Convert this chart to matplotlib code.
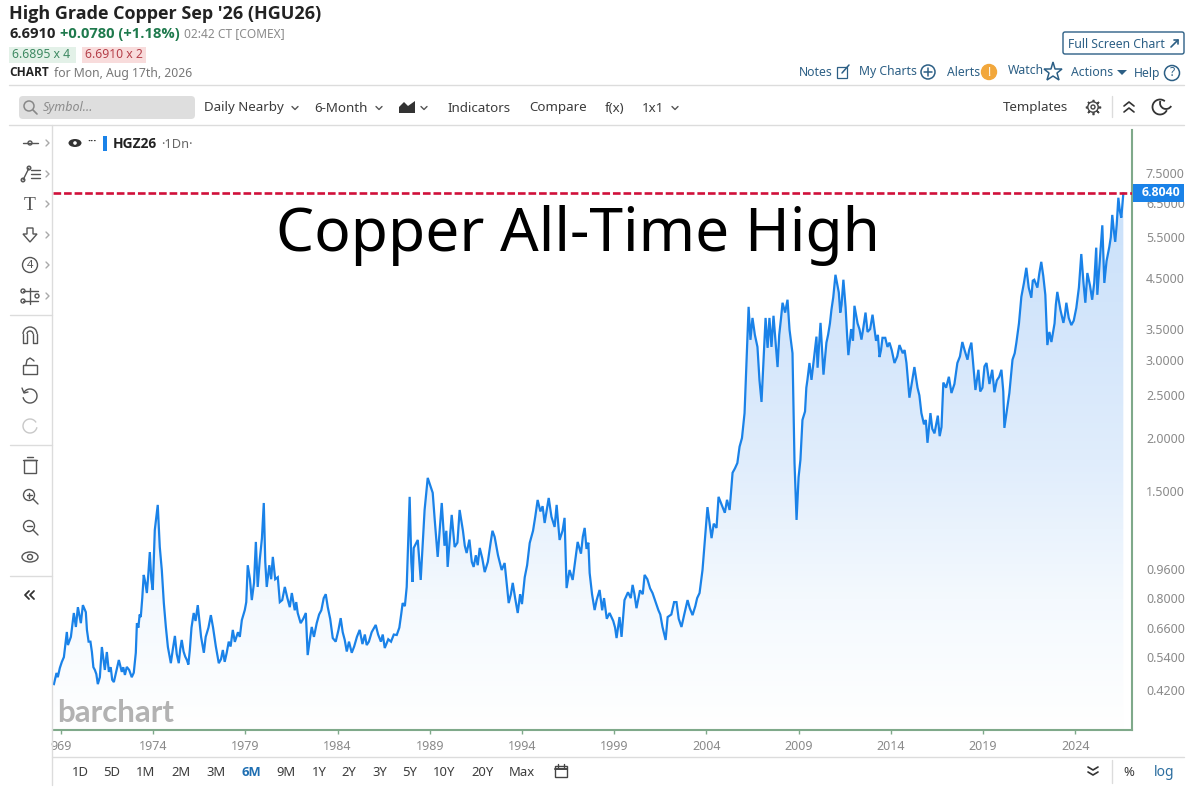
import matplotlib
matplotlib.use("Agg")
import matplotlib.pyplot as plt
import numpy as np
from matplotlib.patches import Arc, Circle, Ellipse, FancyBboxPatch, Polygon, Rectangle
from matplotlib.ticker import NullLocator

plt.rcParams['font.family'] = ['Noto Sans', 'DejaVu Sans']

# turning points
peak_years = [
    1968.62, 1968.76, 1968.83, 1968.94, 1969.05, 1969.16, 1969.32, 1969.38, 1969.54, 1969.70, 1969.81, 1969.92,
    1970.08, 1970.19, 1970.35, 1970.41, 1970.68, 1970.84, 1971.00, 1971.11, 1971.22, 1971.38, 1971.49, 1971.60,
    1971.87, 1972.14, 1972.30, 1972.47, 1972.57, 1972.84, 1973.06, 1973.12, 1973.33, 1973.49, 1973.66, 1973.82,
    1973.98, 1974.09, 1974.25, 1974.36, 1974.47, 1974.58, 1974.69, 1974.80, 1974.96, 1975.18, 1975.39, 1975.55,
    1975.83, 1975.99, 1976.20, 1976.42, 1976.75, 1977.13, 1977.56, 1977.78, 1977.99, 1978.32, 1978.43, 1978.81,
    1978.97, 1979.13, 1979.35, 1979.57, 1979.67, 1979.78, 1980.00, 1980.16, 1980.49, 1980.76, 1980.87, 1981.14,
    1981.41, 1981.52, 1981.84, 1982.28, 1982.38, 1982.60, 1982.87, 1983.25, 1983.47, 1983.74, 1984.17, 1984.39,
    1984.77, 1985.20, 1985.58, 1986.07, 1986.56, 1987.21, 1987.53, 1987.75, 1987.91, 1988.07, 1988.13, 1988.35,
    1988.51, 1988.72, 1988.89, 1989.16, 1989.27, 1989.43, 1989.65, 1989.97, 1990.19, 1990.35, 1990.62, 1991.00,
    1991.38, 1991.71, 1991.98, 1992.52, 1992.90, 1993.06, 1993.28, 1993.50, 1993.77, 1994.15, 1994.42, 1994.85,
    1995.23, 1995.45, 1995.77, 1995.88, 1996.04, 1996.31, 1996.42, 1996.58, 1996.75, 1997.02, 1997.40, 1997.67,
    1997.94, 1998.21, 1998.75, 1999.13, 1999.29, 1999.40, 1999.56, 2000.00, 2000.21, 2000.65, 2001.08, 2001.62,
    2001.79, 2001.90, 2002.38, 2002.65, 2002.98, 2003.25, 2003.63, 2003.79, 2004.06, 2004.28, 2004.66, 2004.88,
    2005.26, 2005.42, 2005.80, 2006.07, 2006.18, 2006.29, 2006.39, 2006.50, 2006.77, 2006.99, 2007.21, 2007.32,
    2007.42, 2007.53, 2007.64, 2007.86, 2008.13, 2008.40, 2008.51, 2008.67, 2008.78, 2008.89, 2009.00, 2009.10,
    2009.21, 2009.48, 2009.59, 2009.70, 2009.97, 2010.03, 2010.19, 2010.35, 2010.51, 2010.78, 2011.00, 2011.33,
    2011.43, 2011.70, 2012.03, 2012.41, 2012.63, 2012.74, 2013.01, 2013.39, 2013.55, 2013.93, 2014.20, 2014.47,
    2014.85, 2015.01, 2015.28, 2015.66, 2015.99, 2016.15, 2016.37, 2016.75, 2016.85, 2017.29, 2017.61, 2017.88,
    2018.16, 2018.37, 2018.59, 2018.97, 2019.19, 2019.62, 2020.00, 2020.16, 2020.43, 2020.60, 2020.81, 2021.08,
    2021.35, 2021.62, 2021.78, 2022.16, 2022.38, 2022.49, 2022.71, 2023.03, 2023.36, 2023.52, 2023.79, 2024.06,
    2024.33, 2024.55, 2024.66, 2024.92, 2025.14, 2025.20, 2025.47, 2025.58, 2025.85, 2026.01, 2026.17, 2026.34,
    2026.50, 2026.61,
]
peak_prices = [
    .44, .479, .464, .497, .52, .538, .641, .586, .62, .727, .663, .755,
    .68, .765, .731, .65, .558, .49, .44, .464, .578, .49, .558, .483,
    .447, .527, .483, .472, .501, .464, .555, .68, .708, .924, .826, 1.06,
    .842, 1.206, 1.39, 1.092, .952, .775, .663, .578, .515, .624, .515, .607,
    .527, .566, .727, .765, .555, .717, .515, .566, .555, .65, .599, .694,
    .741, .98, .79, 1.125, .858, 1.011, 1.405, .858, 1.03, .911, .78, .858,
    .755, .826, .727, .727, .546, .663, .68, .80, .755, .615, .703, .607,
    .555, .65, .586, .672, .574, .628, .775, .858, 1.454, .885, 1.086, 1.138,
    .896, 1.351, 1.614, 1.487, 1.277, 1.03, 1.405, .97, 1.314, 1.092, 1.351, 1.054,
    .97, 1.086, .94, 1.158, .952, .993, .775, .88, .727, .911, 1.118, 1.429,
    1.255, 1.445, 1.227, 1.39, 1.138, 1.292, .852, .952, .896, 1.125, 1.22, .935,
    .741, .842, .727, .615, .708, .62, .79, .869, .75, .924, .826, .663,
    .607, .708, .78, .663, .79, .717, .826, .952, 1.373, 1.15, 1.454, 1.373,
    1.351, 1.66, 1.91, 2.28, 3.0, 3.91, 3.316, 3.70, 3.2, 2.416, 3.7, 3.185,
    3.7, 3.2, 3.74, 2.89, 3.99, 4.05, 3.486, 3.1, 1.75, 1.277, 1.62, 1.78,
    2.2, 2.707, 2.95, 2.707, 3.37, 2.88, 3.61, 2.78, 3.27, 3.85, 4.58, 3.95,
    4.47, 3.07, 3.93, 3.32, 3.8, 3.45, 3.76, 3.04, 3.35, 3.27, 2.95, 3.23,
    2.95, 2.47, 2.89, 2.28, 1.95, 2.28, 2.05, 2.12, 2.67, 2.53, 2.95, 3.28,
    3.0, 3.27, 2.57, 2.6, 2.95, 2.54, 2.85, 2.11, 2.53, 3.0, 3.27, 4.11,
    4.74, 4.09, 4.47, 4.88, 4.15, 3.23, 3.28, 4.21, 3.61, 3.99, 3.57, 3.89,
    5.07, 3.99, 4.62, 4.05, 5.23, 4.15, 5.83, 4.4, 5.25, 6.13, 5.38, 6.66,
    6.05, 6.8,
]
# smaller swings between the turning points
swing_years = [
    1970.50, 1970.60, 1970.76, 1970.92, 1971.70, 1971.78, 1971.95, 1972.05, 1972.22, 1972.38, 1972.70, 1972.78,
    1972.95, 1973.20, 1973.27, 1973.41, 1973.58, 1973.74, 1973.90, 1975.07, 1975.28, 1975.47, 1975.65, 1975.74,
    1975.91, 1976.08, 1976.30, 1976.50, 1976.60, 1976.85, 1977.00, 1977.25, 1977.40, 1977.68, 1977.88, 1978.10,
    1978.20, 1978.60, 1978.70, 1979.05, 1979.25, 1979.47, 1979.90, 1980.08, 1980.30, 1980.40, 1980.62, 1981.00,
    1981.28, 1981.68, 1981.76, 1982.00, 1982.14, 1982.48, 1982.72, 1983.00, 1983.12, 1983.36, 1983.60, 1983.90,
    1984.05, 1984.28, 1984.50, 1984.62, 1984.90, 1985.05, 1985.35, 1985.48, 1985.70, 1985.85, 1986.20, 1986.35,
    1986.45, 1986.75, 1986.90, 1987.05, 1987.35, 1987.45, 1987.65, 1988.00, 1989.80, 1989.90, 1990.50, 1990.80,
    1990.90, 1991.15, 1991.28, 1991.50, 1991.60, 1991.85, 1992.15, 1992.30, 1992.40, 1992.70, 1993.15, 1993.40,
    1993.63, 1993.90, 1994.00, 1994.28, 1994.60, 1994.72, 1995.00, 1995.12, 1995.60, 1996.20, 1997.20, 1997.30,
    1997.50, 1997.60, 1997.80, 1998.05, 1998.35, 1998.45, 1998.60, 1998.95, 1999.05, 1999.75, 1999.90, 2000.10,
    2000.40, 2000.55, 2000.80, 2000.95, 2001.25, 2001.40, 2001.50, 2002.10, 2002.25, 2002.50, 2002.80, 2003.10,
    2003.40, 2003.50, 2004.40, 2004.55, 2005.00, 2005.12, 2005.34, 2005.55, 2005.68, 2005.93, 2006.63, 2006.88,
    2007.10, 2007.75, 2007.95, 2008.05, 2008.27, 2009.35, 2009.42, 2010.60, 2010.70, 2010.88, 2011.18, 2011.26,
    2011.55, 2011.63, 2011.85, 2011.95, 2012.20, 2012.30, 2012.50, 2012.88, 2013.20, 2013.30, 2013.47, 2013.70,
    2013.82, 2014.05, 2014.35, 2014.65, 2014.75, 2015.45, 2015.55, 2015.80, 2015.90, 2016.25, 2016.55, 2016.65,
    2017.00, 2017.15, 2017.45, 2017.75, 2018.00, 2018.25, 2018.75, 2018.85, 2019.08, 2019.35, 2019.50, 2019.75,
    2019.88, 2020.10, 2020.72, 2020.95, 2021.22, 2021.48, 2021.70, 2021.95, 2022.05, 2022.27, 2022.60, 2022.88,
    2022.95, 2023.20, 2023.44, 2023.65, 2023.92, 2024.20, 2024.45, 2024.80, 2025.03, 2025.33, 2025.70, 2025.93,
    2026.09, 2026.25, 2026.42,
]
swing_prices = [
    .60, .60, .50, .475, .50, .455, .47, .50, .505, .50, .49, .475,
    .48, .66, .72, .80, .88, .93, .90, .57, .55, .57, .56, .54,
    .51, .66, .69, .70, .62, .62, .66, .66, .58, .53, .52, .60,
    .58, .64, .62, .78, .90, .88, 1.15, 1.0, .98, .90, .90, .79,
    .80, .74, .78, .68, .70, .60, .62, .72, .74, .82, .70, .60,
    .65, .64, .56, .60, .58, .62, .59, .63, .60, .64, .63, .60,
    .63, .61, .60, .63, .66, .72, .76, 1.0, 1.1, 1.2, 1.12, 1.2,
    1.1, 1.14, 1.0, 1.04, .98, 1.02, 1.0, 1.12, 1.2, 1.04, .90, .82,
    .80, .82, .77, .98, 1.2, 1.3, 1.34, 1.38, 1.3, 1.2, 1.05, 1.16,
    1.08, 1.12, .82, .79, .74, .80, .70, .69, .66, .83, .80, .82,
    .84, .82, .90, .85, .78, .74, .72, .72, .78, .70, .72, .75,
    .76, .80, 1.25, 1.22, 1.33, 1.43, 1.5, 1.7, 1.75, 2.0, 3.4, 2.7,
    3.0, 3.3, 3.4, 3.7, 3.8, 2.3, 2.6, 3.4, 3.6, 4.1, 4.2, 3.8,
    3.9, 3.4, 3.5, 3.3, 3.6, 3.5, 3.5, 3.5, 3.3, 3.4, 3.15, 3.35,
    3.2, 3.15, 3.05, 3.1, 3.15, 2.6, 2.5, 2.15, 2.2, 2.1, 2.25, 2.02,
    2.6, 2.75, 2.65, 3.05, 3.15, 3.15, 2.85, 2.55, 2.9, 2.65, 2.85, 2.7,
    2.75, 2.55, 3.1, 3.6, 4.4, 4.3, 4.45, 4.3, 4.6, 4.55, 3.45, 3.6,
    3.95, 3.85, 3.75, 3.7, 3.65, 4.3, 4.4, 4.35, 4.4, 4.9, 4.9, 5.5,
    5.7, 5.85, 6.25,
]
x_ticks = [1969, 1974, 1979, 1984, 1989, 1994, 1999, 2004, 2009, 2014, 2019, 2024]
x_labels = ['969', '1974', '1979', '1984', '1989', '1994', '1999', '2004', '2009', '2014', '2019', '2024']
y_ticks = [0.42, 0.54, 0.66, 0.80, 0.96, 1.5, 2.0, 2.5, 3.0, 3.5, 4.5, 5.5, 6.5, 7.5]
all_time_high = 6.804

LINE = '#1a82e8'
GREEN = '#7fa98a'
TEXT = '#3c3c3c'
LINK = '#2c5f85'
RULE = '#dcdcdc'

W, H = 1199, 790
fig = plt.figure(figsize=(W / 100, H / 100), dpi=100, facecolor='white')

order = np.argsort(peak_years + swing_years)
years = np.array(peak_years + swing_years)[order]
prices = np.array(peak_prices + swing_prices)[order]

# price panel, barchart's "log" axis behaves like log(p + 0.3)
ax = fig.add_axes([53 / W, 60 / H, 1079 / W, 600 / H])
ax.set_yscale('function', functions=(lambda p: np.log(np.maximum(p + 0.3, 1e-6)), lambda v: np.exp(v) - 0.3))

x_lim = (1968.57, 2027.08)
y_lim = (0.299, 9.21)

gradient = np.linspace(1, 0, 256).reshape(-1, 1)
cmap = matplotlib.colors.LinearSegmentedColormap.from_list(
    'fade', [(0, '#ffffff'), (0.217, '#f4f9fe'), (0.45, '#e0edfc'), (0.667, '#d4e6fb'), (1, '#c6dffa')])
im = ax.imshow(gradient, cmap=cmap, vmin=0, vmax=1, extent=(0, 1, 0, 1), transform=ax.transAxes,
               aspect='auto', zorder=1)
outline = list(zip(years, prices)) + [(years[-1], y_lim[0]), (years[0], y_lim[0])]
shape = Polygon(outline, closed=True, fc='none', ec='none', transform=ax.transData)
ax.add_patch(shape)
im.set_clip_path(shape)

ax.plot(years, prices, color=LINE, lw=1.6, zorder=3, solid_joinstyle='miter')
ax.axhline(all_time_high, color='#d0103a', lw=1.9, dashes=(2.9, 1.1), zorder=4)

ax.set_xlim(*x_lim)
ax.set_ylim(*y_lim)
ax.set_xticks(x_ticks)
ax.set_xticklabels(x_labels)
ax.set_yticks(y_ticks)
ax.set_yticklabels(['%.4f' % t for t in y_ticks])
ax.yaxis.set_minor_locator(NullLocator())
ax.yaxis.tick_right()
ax.tick_params(axis='y', length=0, pad=10, labelsize=9, labelcolor='#8a8a8a')
ax.tick_params(axis='x', length=3, width=1, color=GREEN, pad=4, labelsize=9, labelcolor='#8a8a8a')
for side in ['top', 'left']:
    ax.spines[side].set_visible(False)
for side in ['right', 'bottom']:
    ax.spines[side].set_color(GREEN)
    ax.spines[side].set_linewidth(1.5)

# page furniture, drawn in pixel coordinates
ui = fig.add_axes([0, 0, 1, 1], zorder=5)
ui.set_xlim(0, W)
ui.set_ylim(H, 0)
ui.axis('off')
ui.patch.set_alpha(0)


def label(x, y, s, size=9.5, color=TEXT, weight='normal', ha='left', style='normal'):
    family = ['Open Sans', 'DejaVu Sans'] if weight == 'bold' else ['Noto Sans', 'DejaVu Sans']
    ui.text(x, y + 1, s, fontsize=size, color=color, fontweight=weight, ha=ha, va='center', fontstyle=style,
            family=family)


def stroke(xs, ys, color='#555555', lw=1.0):
    ui.plot(xs, ys, color=color, lw=lw, solid_capstyle='round')


def vee(x, y, color='#555555'):
    stroke([x - 3, x, x + 3], [y - 1.5, y + 1.5, y - 1.5], color)


def side_chevron(y):
    stroke([46, 49, 46], [y - 3, y, y + 3], '#aaaaaa')


def double_up(x, y, color='#333333'):
    stroke([x - 5, x, x + 5], [y - 1, y - 5, y - 1], color, 1.2)
    stroke([x - 5, x, x + 5], [y + 5, y + 1, y + 5], color, 1.2)


def ring(x, y, r, color='#555555', lw=1.0, face='none'):
    ui.add_patch(Circle((x, y), r, fc=face, ec=color, lw=lw))


# title block
label(9, 13, "High Grade Copper Sep '26 (HGU26)", 13, '#222222', 'bold')
label(9, 33, '6.6910', 10.6, '#222222', 'bold')
label(60, 33, '+0.0780 (+1.18%)', 10.6, '#1f7a4d', 'bold')
label(184, 33, '02:42 CT [COMEX]', 8.6, '#8a8a8a')
ui.add_patch(Rectangle((9, 47), 67, 16, fc='#e3f1e8', ec='none'))
label(12, 54, '6.6895 x 4', 8.8, '#3f8a63')
ui.add_patch(Rectangle((82, 47), 64, 16, fc='#f8dcdc', ec='none'))
label(85, 54, '6.6910 x 2', 8.8, '#b5404a')
label(9, 72, 'CHART', 8.6, '#222222', 'bold')
label(54, 72, 'for Mon, Aug 17th, 2026', 8.8, '#777777')

# links, top right
ui.add_patch(FancyBboxPatch((1063, 32), 121, 22, boxstyle='round,pad=0,rounding_size=2', fc='white', ec=LINK, lw=1))
label(1068, 43, 'Full Screen Chart', 8.8, LINK)
stroke([1171, 1178], [47, 40], LINK, 1.2)
stroke([1174, 1178, 1178], [40, 40, 44], LINK, 1.2)
label(799, 71, 'Notes', 8.8, LINK)
ui.add_patch(Rectangle((837, 67), 10, 11, fc='none', ec=LINK, lw=0.9))
stroke([842, 849], [73, 65], LINK, 1.1)
label(859, 71, 'My Charts', 8.8, LINK)
ring(928, 72, 7, LINK, 1.1)
stroke([924, 932], [72, 72], LINK, 1.1)
stroke([928, 928], [68, 76], LINK, 1.1)
label(947, 71, 'Alerts', 8.8, LINK)
ring(989, 72, 7.5, '#f2a73b', 1, '#f2a73b')
ui.text(989, 72, '!', fontsize=8.5, color='white', fontweight='bold', ha='center', va='center')
label(1008, 70, 'Watch', 8.8, LINK)
ui.plot([1053], [72], marker='*', ms=14, mfc='white', mec=LINK, mew=1.1)
label(1071, 71, 'Actions', 8.8, LINK)
ui.add_patch(Polygon([(1117, 70), (1127, 70), (1122, 75)], fc=LINK, ec='none'))
label(1134, 72, 'Help', 8.8, LINK)
ring(1172, 73, 7.5, LINK, 1.1)
ui.text(1172, 73, '?', fontsize=8.5, color=LINK, fontweight='bold', ha='center', va='center')

# toolbar
stroke([9, 1184], [85, 85], RULE, 1.0)
stroke([9, 1184], [125, 125], RULE, 1.0)
ui.add_patch(FancyBboxPatch((19, 96), 176, 23, boxstyle='round,pad=0,rounding_size=4', fc='#dedede', ec='none'))
ring(29, 106, 5, '#888888', 1.1)
stroke([33, 37], [110, 114], '#888888', 1.2)
label(43, 107, 'Symbol...', 9, '#8c8c8c', style='italic')
label(204, 107, 'Daily Nearby', 9.6)
vee(295, 108)
label(314, 107, '6-Month', 9.6)
vee(379, 108)
ui.add_patch(Polygon([(399, 113), (399, 107), (404, 102), (408, 106), (415, 101), (415, 113)], fc='#333333', ec='none'))
vee(424, 108)
label(447, 107, 'Indicators', 9.6)
label(529, 107, 'Compare', 9.6)
label(605, 107, 'f(x)', 9.6)
label(642, 107, '1x1', 9.6)
vee(675, 108)
label(1003, 107, 'Templates', 9.6)
ui.plot([1093], [107], marker=(8, 2, 0), ms=11, mew=1.2, color='#444444')
ui.add_patch(Circle((1093, 107), 5.2, fc='white', ec='#444444', lw=1.0, zorder=3))
ui.add_patch(Circle((1093, 107), 2, fc='white', ec='#444444', lw=1.0, zorder=3))
stroke([1112, 1112], [96, 117], RULE, 1.0)
double_up(1129, 107)
ui.add_patch(Arc((1160, 107), 15, 15, theta1=25, theta2=310, ec='#333333', lw=1.3))
ui.add_patch(Arc((1166, 103), 12, 12, theta1=30, theta2=200, ec='#333333', lw=1.3))

# drawing tools column
stroke([52, 52], [125, 785], RULE, 1.0)
for y in [143, 174, 204, 235, 265, 296]:
    side_chevron(y)
stroke([23, 38], [143, 143])
ring(30, 143, 2)
for yy in [170, 174, 178]:
    stroke([31, 40], [yy, yy])
stroke([23, 29], [180, 168])
ring(23, 180, 1.8)
ring(29, 168, 1.8)
ui.text(30, 205, 'T', fontsize=14, color='#555555', ha='center', va='center', family='Liberation Serif')
ui.add_patch(Polygon([(27, 228), (33, 228), (33, 234), (37, 234), (30, 242), (23, 234), (27, 234)], fc='none', ec='#555555', lw=1))
ring(30, 265, 7.5)
ui.text(30, 265, '4', fontsize=8, color='#555555', ha='center', va='center')
for yy in [291, 301]:
    stroke([23, 38], [yy, yy])
ring(23, 291, 2)
ring(23, 301, 2)
ring(37, 296, 2)
stroke([30, 30], [288, 304])
stroke([10, 52], [315, 315], RULE)
ui.add_patch(Arc((30, 334), 14, 14, theta1=180, theta2=360, ec='#555555', lw=1))
ui.add_patch(Arc((30, 334), 6, 6, theta1=180, theta2=360, ec='#555555', lw=1))
stroke([23, 23, 27, 27], [334, 343, 343, 334])
stroke([37, 37, 33, 33], [334, 343, 343, 334])
ui.add_patch(Rectangle((23, 365), 14, 9, fc='none', ec='#555555', lw=1))
stroke([26, 27, 30, 33, 34], [365, 360, 358, 360, 361])
ui.add_patch(Arc((30, 396), 14, 14, theta1=-150, theta2=170, ec='#555555', lw=1))
stroke([22, 24, 28], [388, 393, 392])
ui.add_patch(Arc((30, 426), 14, 14, theta1=10, theta2=-30, ec='#c8c8c8', lw=1))
stroke([10, 52], [445, 445], RULE)
ui.add_patch(Rectangle((24, 460), 12, 13, fc='none', ec='#555555', lw=1))
stroke([23, 37], [460, 460])
stroke([27, 33], [457, 457])
ring(29, 495, 5.5)
stroke([33, 38], [499, 504])
stroke([26.5, 31.5], [495, 495])
stroke([29, 29], [492.5, 497.5])
ring(29, 526, 5.5)
stroke([33, 38], [530, 535])
stroke([26.5, 31.5], [526, 526])
ui.add_patch(Ellipse((30, 557), 16, 10, fc='none', ec='#555555', lw=1))
ring(30, 557, 2.5)
stroke([10, 52], [576, 576], RULE)
for dx in [0, 5]:
    stroke([29 + dx, 25 + dx, 29 + dx], [591, 595, 599], '#333333', 1.3)

# series legend row
ui.add_patch(Ellipse((75, 143), 13, 8, fc='#333333', ec='none'))
ui.add_patch(Circle((75, 143), 1.8, fc='white', ec='none'))
label(87, 140, '···', 8, '#333333', 'bold')
ui.add_patch(Rectangle((103, 136), 3.5, 15, fc=LINE, ec='none'))
label(113, 143, 'HGZ26', 9.9, '#222222', 'bold')
label(161, 143, '·1Dn·', 9.2, '#666666')

# annotation, price box and watermark
ui.text(578, 236, 'Copper All-Time High', fontsize=43.5, color='#000000', ha='center', va='center')
ui.add_patch(Rectangle((1133, 184), 51, 18, fc=LINE, ec='none'))
ui.text(1161, 193, '6.8040', fontsize=8.8, color='white', fontweight='bold', ha='center', va='center',
        family=['Open Sans', 'DejaVu Sans'])
ui.text(57, 713, 'barchart', fontsize=22.5, color='#b2b2b2', fontweight='bold', ha='left', va='center', family='Lato')

# range buttons
stroke([52, 1184], [757, 757], RULE, 1.0)
range_labels = ['1D', '5D', '1M', '2M', '3M', '6M', '9M', '1Y', '2Y', '3Y', '5Y', '10Y', '20Y', 'Max']
range_x = [80, 112, 146, 181, 216, 251, 286, 319, 349, 380, 410, 444, 482, 522]
for s, x in zip(range_labels, range_x):
    if s == '6M':
        label(x, 771, s, 9.4, '#1f6fb2', 'bold', ha='center')
    else:
        label(x, 771, s, 9.4, TEXT, ha='center')
ui.add_patch(Rectangle((555, 766), 12, 11, fc='none', ec='#444444', lw=1))
stroke([555, 567], [769, 769], '#444444', 1.4)
stroke([558, 558], [764, 767], '#444444')
stroke([564, 564], [764, 767], '#444444')
stroke([1088, 1093, 1098], [767, 770, 767], '#333333', 1.2)
stroke([1088, 1093, 1098], [772, 775, 772], '#333333', 1.2)
stroke([1112, 1112], [760, 783], RULE, 1.0)
label(1129, 771, '%', 9.4, TEXT, ha='center')
label(1164, 771, 'log', 10, '#2c6ea0', ha='center')

fig.savefig('out.png', dpi=100)
